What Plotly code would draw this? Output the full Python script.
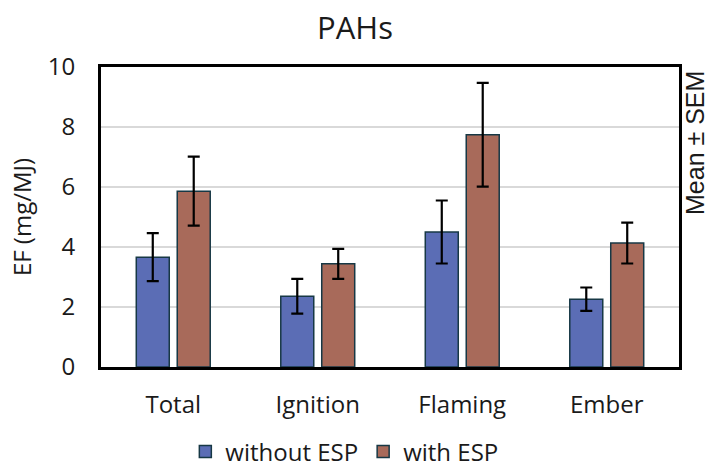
import plotly.graph_objects as go

# PAH emission factors by combustion phase
categories = ["Total", "Ignition", "Flaming", "Ember"]
without_esp = [3.66, 2.36, 4.50, 2.26]
without_esp_sem = [0.80, 0.58, 1.05, 0.39]
with_esp = [5.86, 3.44, 7.74, 4.13]
with_esp_sem = [1.15, 0.50, 1.73, 0.68]
y_ticks = [0, 2, 4, 6, 8, 10]

font_main = "Open Sans"
edge = "#173845"
text_color = "#1a1a1a"

fig = go.Figure()
fig.add_trace(go.Bar(
    name="without ESP", x=categories, y=without_esp,
    marker=dict(color="#5b6db5", line=dict(color=edge, width=1.5)),
    error_y=dict(type="data", array=without_esp_sem, color="black", thickness=2.2, width=6),
))
fig.add_trace(go.Bar(
    name="with ESP", x=categories, y=with_esp,
    marker=dict(color="#a86a5a", line=dict(color=edge, width=1.5)),
    error_y=dict(type="data", array=with_esp_sem, color="black", thickness=2.2, width=6),
))

fig.update_layout(
    width=710, height=468,
    margin=dict(l=101, r=31, t=67, b=101, autoexpand=False),
    paper_bgcolor="white", plot_bgcolor="white",
    barmode="group", bargap=0.433, bargroupgap=0.195,
    font=dict(family=font_main, size=24, color=text_color),
    title=dict(text="PAHs", x=0.5, xref="container", xanchor="center",
               y=1 - 28 / 468, yref="container", yanchor="middle",
               font=dict(family=font_main, size=31, color=text_color)),
    legend=dict(orientation="h", x=0.421, xanchor="center",
                y=1 - 452 / 468, yref="container", yanchor="middle",
                font=dict(family=font_main, size=24, color=text_color), itemwidth=30,
                traceorder="normal"),
    xaxis=dict(showline=True, linecolor="black", linewidth=3, mirror=True, automargin=False,
               ticks="", tickfont=dict(size=24, color=text_color), ticklabelstandoff=14),
    yaxis=dict(range=[0, 10], tickvals=y_ticks, showline=True, linecolor="black",
               linewidth=3, mirror=True, showgrid=True, gridcolor="#d9d9d9", gridwidth=2,
               zeroline=False, ticks="", tickfont=dict(size=24, color=text_color),
               ticklabelstandoff=18, automargin=False,
               title=dict(text="EF (mg/MJ)", font=dict(size=24, color=text_color), standoff=10)),
    annotations=[dict(
        text="Mean ± SEM", textangle=-90, xref="paper", yref="paper",
        x=1, y=1, xanchor="left", yanchor="top", xshift=0, yshift=-2, showarrow=False,
        font=dict(family="Liberation Sans", size=25, color=text_color),
    )],
)

fig.write_html("out.html")
